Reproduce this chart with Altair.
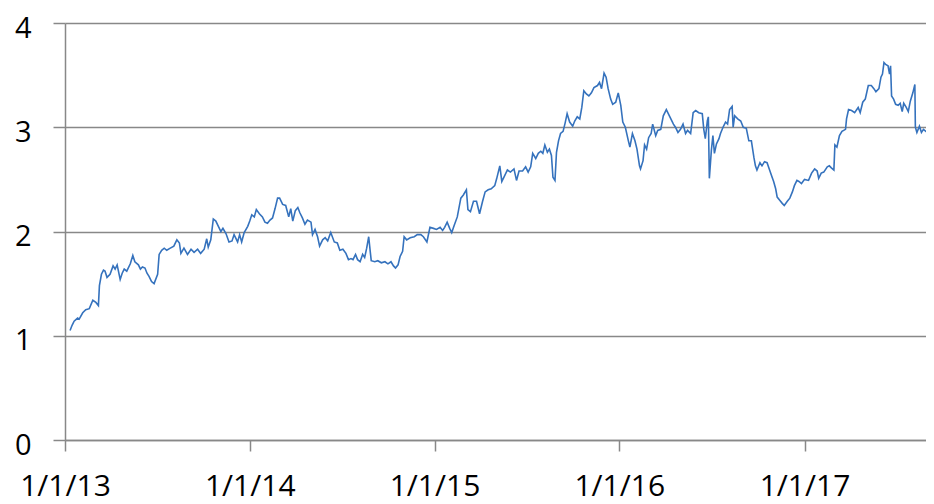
import altair as alt
import pandas as pd

# days since 2013-01-01 and the series value
days = [10, 14, 18, 25, 28, 35, 41, 48, 55, 61, 66, 68, 72, 76, 79, 83, 89, 95, 99, 103,
        109, 113, 117, 122, 129, 134, 138, 145, 149, 153, 158, 162, 166, 171, 176, 183, 186, 191, 196, 201,
        208, 215, 221, 226, 229, 235, 242, 249, 255, 262, 268, 275, 280, 283, 288, 293, 298, 303, 308, 312,
        318, 324, 330, 334, 341, 345, 349, 354, 361, 365, 369, 374, 378, 384, 390, 395, 400, 405, 410, 415,
        420, 424, 430, 436, 442, 446, 450, 455, 460, 464, 469, 474, 479, 486, 489, 494, 499, 503, 509, 514,
        519, 525, 532, 538, 543, 549, 555, 560, 565, 569, 574, 578, 583, 588, 592, 596, 600, 603, 605, 612,
        618, 625, 632, 638, 644, 649, 653, 658, 662, 667, 670, 675, 682, 690, 696, 703, 708, 715, 721, 728,
        734, 741, 746, 750, 755, 760, 764, 769, 775, 782, 787, 793, 796, 801, 807, 813, 819, 825, 830, 836,
        842, 849, 853, 859, 863, 867, 874, 880, 887, 892, 897, 904, 910, 915, 920, 924, 930, 935, 940, 944,
        948, 953, 957, 961, 964, 968, 971, 975, 979, 984, 988, 992, 997, 1003, 1007, 1012, 1017, 1021, 1025, 1030,
        1035, 1040, 1045, 1052, 1056, 1060, 1065, 1069, 1073, 1078, 1082, 1088, 1093, 1098, 1102, 1107, 1113, 1116, 1121, 1126,
        1130, 1135, 1137, 1142, 1145, 1149, 1153, 1158, 1161, 1167, 1171, 1177, 1182, 1188, 1195, 1202, 1206, 1211, 1216, 1221,
        1226, 1230, 1236, 1241, 1246, 1252, 1259, 1262, 1265, 1269, 1271, 1273, 1277, 1280, 1283, 1287, 1292, 1295, 1300, 1305,
        1309, 1313, 1318, 1320, 1323, 1329, 1335, 1340, 1346, 1351, 1356, 1361, 1364, 1367, 1373, 1377, 1382, 1387, 1392, 1397,
        1400, 1404, 1407, 1412, 1417, 1421, 1427, 1432, 1437, 1441, 1446, 1450, 1455, 1461, 1469, 1475, 1481, 1486, 1489, 1494,
        1499, 1506, 1510, 1514, 1519, 1521, 1525, 1530, 1535, 1542, 1544, 1548, 1554, 1560, 1567, 1571, 1576, 1581, 1587, 1593,
        1598, 1602, 1608, 1612, 1615, 1618, 1622, 1626, 1629, 1631, 1633, 1637, 1641, 1646, 1650, 1654, 1657, 1662, 1666, 1670,
        1675, 1679, 1680, 1683, 1688, 1692, 1696, 1701, 1706, 1712, 1717]

values = [1.05, 1.10, 1.14, 1.17, 1.16, 1.22, 1.25, 1.26, 1.34, 1.32, 1.29, 1.48, 1.59, 1.63, 1.62, 1.56, 1.59, 1.67, 1.64, 1.68,
          1.54, 1.60, 1.64, 1.62, 1.69, 1.77, 1.71, 1.68, 1.64, 1.66, 1.65, 1.60, 1.57, 1.52, 1.50, 1.59, 1.78, 1.82, 1.84, 1.82,
          1.84, 1.86, 1.92, 1.89, 1.79, 1.84, 1.78, 1.83, 1.80, 1.83, 1.79, 1.83, 1.93, 1.85, 1.92, 2.12, 2.10, 2.05, 2.00, 2.03,
          1.98, 1.90, 1.91, 1.97, 1.90, 1.97, 1.90, 1.99, 2.05, 2.10, 2.16, 2.14, 2.21, 2.17, 2.14, 2.09, 2.08, 2.11, 2.13, 2.22,
          2.32, 2.32, 2.26, 2.25, 2.14, 2.22, 2.10, 2.20, 2.23, 2.18, 2.13, 2.07, 2.11, 2.09, 1.97, 2.02, 1.95, 1.86, 1.92, 1.94,
          1.91, 1.99, 1.90, 1.89, 1.82, 1.83, 1.79, 1.73, 1.74, 1.73, 1.78, 1.73, 1.71, 1.78, 1.75, 1.84, 1.95, 1.81, 1.72, 1.71,
          1.72, 1.70, 1.71, 1.69, 1.71, 1.67, 1.65, 1.68, 1.76, 1.81, 1.95, 1.92, 1.94, 1.95, 1.97, 1.97, 1.95, 1.90, 2.04, 2.03,
          2.02, 2.04, 2.01, 2.04, 2.09, 2.03, 1.99, 2.06, 2.14, 2.32, 2.35, 2.40, 2.21, 2.19, 2.29, 2.29, 2.17, 2.29, 2.38, 2.40,
          2.41, 2.44, 2.51, 2.63, 2.48, 2.52, 2.59, 2.57, 2.60, 2.49, 2.58, 2.58, 2.62, 2.57, 2.62, 2.75, 2.70, 2.75, 2.77, 2.75,
          2.83, 2.76, 2.79, 2.73, 2.52, 2.49, 2.76, 2.87, 2.94, 2.96, 3.04, 3.13, 3.05, 3.01, 3.06, 3.10, 3.08, 3.19, 3.35, 3.32,
          3.30, 3.33, 3.38, 3.40, 3.43, 3.37, 3.52, 3.48, 3.37, 3.27, 3.22, 3.24, 3.33, 3.21, 3.05, 3.00, 2.87, 2.81, 2.94, 2.87,
          2.79, 2.63, 2.60, 2.68, 2.83, 2.79, 2.90, 2.94, 3.03, 2.92, 2.97, 2.98, 3.11, 3.17, 3.10, 3.03, 3.00, 2.95, 2.98, 3.03,
          2.94, 2.97, 2.94, 3.14, 3.16, 3.14, 3.13, 2.98, 2.89, 3.06, 3.10, 2.51, 2.78, 2.92, 2.75, 2.84, 2.89, 2.94, 3.00, 3.05,
          3.03, 3.17, 3.20, 3.00, 3.11, 3.08, 3.06, 3.00, 2.99, 2.87, 2.87, 2.71, 2.63, 2.59, 2.66, 2.63, 2.67, 2.66, 2.59, 2.52,
          2.48, 2.41, 2.33, 2.30, 2.27, 2.25, 2.29, 2.32, 2.38, 2.44, 2.49, 2.48, 2.46, 2.50, 2.49, 2.56, 2.60, 2.58, 2.51, 2.56,
          2.57, 2.62, 2.63, 2.61, 2.59, 2.83, 2.81, 2.92, 2.96, 2.98, 3.08, 3.17, 3.16, 3.14, 3.19, 3.14, 3.24, 3.27, 3.40, 3.40,
          3.37, 3.34, 3.37, 3.48, 3.51, 3.62, 3.60, 3.59, 3.51, 3.59, 3.30, 3.27, 3.22, 3.21, 3.23, 3.15, 3.23, 3.19, 3.15, 3.25,
          3.33, 3.41, 3.00, 2.95, 3.01, 2.95, 2.98, 2.96, 2.98, 2.96, 2.97]

y_ticks = [0, 1, 2, 3, 4]
x_tick_years = [2013, 2014, 2015, 2016, 2017]

start = pd.Timestamp("2013-01-01")
df = pd.DataFrame({
    "date": [(start + pd.Timedelta(days=d)).strftime("%Y-%m-%d") for d in days],
    "value": values,
})

GRAY = "#888888"
FONT = "Open Sans"

chart = alt.Chart(df).mark_line(color="#3572bd", strokeWidth=1.6, clip=True).encode(
    x=alt.X(
        "date:T",
        scale=alt.Scale(domain=[alt.DateTime(year=2013, month=1, date=1),
                                alt.DateTime(year=2017, month=8, date=29)]),
        axis=alt.Axis(
            values=[alt.DateTime(year=y, month=1, date=1) for y in x_tick_years],
            format="%-m/%-d/%y",
            title=None, grid=False,
            domainColor=GRAY, domainWidth=1.5,
            tickColor=GRAY, tickSize=11, tickWidth=1.5,
            labelFont=FONT, labelFontSize=30, labelColor="#000000",
            labelBaseline="alphabetic", labelPadding=44,
            labelFlush=False, labelOverlap=False,
        ),
    ),
    y=alt.Y(
        "value:Q",
        scale=alt.Scale(domain=[0, 4], nice=False, zero=True),
        axis=alt.Axis(
            values=y_ticks, format="d", title=None,
            grid=True, gridColor=GRAY, gridWidth=1.5,
            domainColor=GRAY, domainWidth=1.5,
            tickColor=GRAY, tickSize=12, tickWidth=1.5,
            labelFont=FONT, labelFontSize=29, labelColor="#000000",
            labelPadding=22, labelOffset=5, labelFlush=False,
        ),
    ),
).properties(
    width=861, height=417,
    autosize=alt.AutoSizeParams(type="none"),
    padding={"left": 57, "top": 15, "right": 0, "bottom": 66},
).configure_view(stroke=None)

chart.save("out.html", embed_options={"renderer": "svg", "actions": False})
